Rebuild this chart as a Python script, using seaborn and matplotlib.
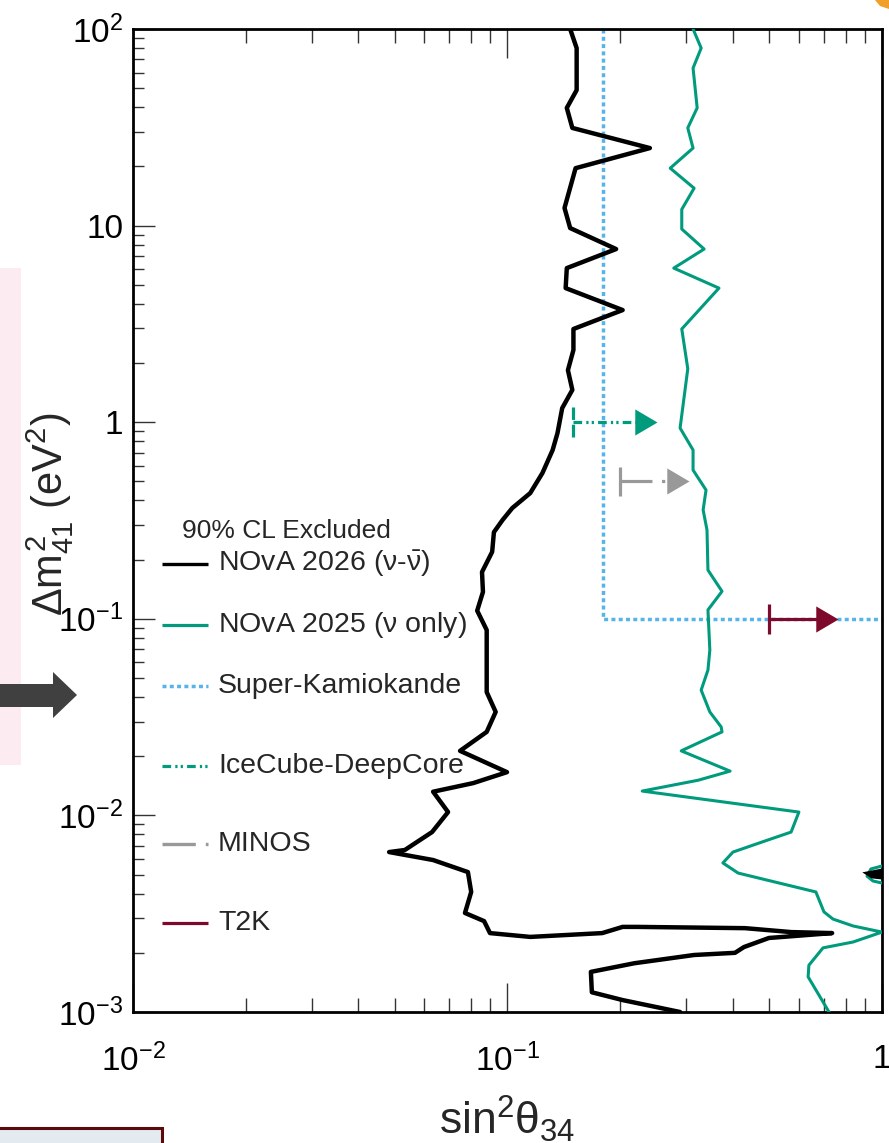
import numpy as np
import matplotlib
matplotlib.use("Agg")
import matplotlib.pyplot as plt
import seaborn as sns
from matplotlib.lines import Line2D
from matplotlib.patches import Rectangle, Polygon
from matplotlib.path import Path
from matplotlib.ticker import LogLocator, NullFormatter

# NOvA 2026 (nu + antinu) 90% CL contour, read top -> bottom
nova26_s2 = [0.147, 0.153, 0.153, 0.144, 0.149, 0.240, 0.152, 0.142, 0.147, 0.195,
             0.144, 0.143, 0.203, 0.150, 0.150, 0.145, 0.149, 0.140, 0.136, 0.132,
             0.124, 0.115, 0.103, 0.097, 0.092, 0.091, 0.0855, 0.086, 0.083, 0.088,
             0.088, 0.088, 0.088, 0.093, 0.088, 0.0747, 0.0997, 0.081, 0.0633, 0.0694,
             0.0629, 0.0532, 0.0483, 0.0633, 0.0784, 0.080, 0.077, 0.0866, 0.0898, 0.115,
             0.179, 0.203, 0.222, 0.431, 0.572, 0.736, 0.499, 0.428, 0.405, 0.315,
             0.218, 0.167, 0.168, 0.203, 0.289]
nova26_dm2 = [100, 80.0, 48.9, 39.7, 31.4, 24.8, 19.6, 12.3, 9.72, 7.60,
              6.08, 4.81, 3.72, 2.98, 2.33, 1.84, 1.46, 1.18, 0.881, 0.722,
              0.552, 0.436, 0.366, 0.318, 0.276, 0.219, 0.173, 0.137, 0.110, 0.0877,
              0.0694, 0.0536, 0.0424, 0.0336, 0.0266, 0.0213, 0.0166, 0.0146, 0.0132, 0.0104,
              0.00823, 0.00667, 0.00651, 0.00593, 0.00515, 0.00408, 0.00319, 0.00290, 0.00252, 0.00241,
              0.00252, 0.00271, 0.00271, 0.00267, 0.00255, 0.00252, 0.00238, 0.00214, 0.00200, 0.00195,
              0.00177, 0.00160, 0.00126, 0.00115, 0.001]
# small closed island near sin^2 = 1
island26_s2 = [1.0, 0.906, 0.940, 1.0]
island26_dm2 = [0.00528, 0.00509, 0.00486, 0.00480]

# NOvA 2025 (nu only)
nova25_s2 = [0.313, 0.329, 0.313, 0.321, 0.303, 0.313, 0.272, 0.315, 0.292, 0.292,
             0.335, 0.278, 0.367, 0.292, 0.303, 0.289, 0.313, 0.313, 0.339, 0.333,
             0.341, 0.343, 0.374, 0.343, 0.347, 0.343, 0.329, 0.347, 0.372, 0.374,
             0.291, 0.393, 0.323, 0.229, 0.600, 0.572, 0.478, 0.400, 0.376, 0.413,
             0.666, 0.700, 0.740, 0.837, 1.0, 0.837, 0.696, 0.638, 0.635, 0.722]
nova25_dm2 = [100, 80.0, 63.3, 39.7, 31.4, 24.8, 19.6, 15.5, 12.1, 9.61,
              7.60, 6.08, 4.81, 2.98, 1.87, 0.934, 0.722, 0.571, 0.452, 0.358,
              0.283, 0.177, 0.138, 0.111, 0.0694, 0.0549, 0.0434, 0.0336, 0.0282, 0.0266,
              0.0213, 0.0168, 0.0151, 0.0133, 0.0104, 0.00823, 0.00732, 0.00651, 0.00573, 0.00509,
              0.00408, 0.00323, 0.00297, 0.00274, 0.00255, 0.00227, 0.00212, 0.00173, 0.00151, 0.001]
island25_s2 = [1.0, 0.934, 0.912, 0.946, 1.0]
island25_dm2 = [0.00553, 0.00534, 0.00491, 0.00464, 0.00453]

# Super-Kamiokande
superk_s2 = [0.18, 0.18, 1.0]
superk_dm2 = [100, 0.1, 0.1]

# one-sided limits: (start, arrow tip, dm2)
icecube_lim = (0.15, 0.25, 1.0)
minos_lim = (0.20, 0.305, 0.5)
t2k_lim = (0.50, 0.763, 0.1)

legend_labels = ["NOvA 2026 ($\\nu$-$\\bar{\\nu}$)", "NOvA 2025 ($\\nu$ only)",
                 "Super-Kamiokande", "IceCube-DeepCore", "MINOS", "T2K"]

C_GREEN = "#009B7D"
C_SK = "#56B4E9"
C_MINOS = "#999999"
C_T2K = "#7D0A2A"

LS_SK = (0, (1.15, 0.95))
LS_IC = (0, (2.7, 1.3, 0.7, 1.0, 0.7, 1.3))
LS_MINOS = (0, (10, 3, 1, 3))

sns.set_style("ticks")
plt.rcParams["font.family"] = ["Liberation Sans", "DejaVu Sans"]
plt.rcParams["mathtext.fontset"] = "custom"
plt.rcParams["mathtext.rm"] = "Liberation Sans"
plt.rcParams["mathtext.it"] = "Liberation Sans"
plt.rcParams["mathtext.bf"] = "Liberation Sans:bold"

fig = plt.figure(figsize=(8.89, 11.43), dpi=100)
ax = fig.add_axes([0.1496, 0.1146, 0.8425, 0.8600])
ax.set_xscale("log")
ax.set_yscale("log")

# arrow head marker with its tip at the data point
head = Path([(0, 0), (-0.85, 0.5), (-0.85, -0.5), (0, 0)],
            [Path.MOVETO, Path.LINETO, Path.LINETO, Path.CLOSEPOLY])


def limit_arrow(lim, color, ls, bar_ls="-", lw=2.3):
    x0, x1, y = lim
    ax.plot([x0, x1 * 0.93], [y, y], color=color, ls=ls, lw=lw, zorder=4,
            solid_capstyle="butt", dash_capstyle="butt")
    ax.plot([x0, x0], [y / 1.19, y * 1.19], color=color, ls=bar_ls, lw=lw, zorder=4,
            solid_capstyle="butt", dash_capstyle="butt")
    ax.plot([x1], [y], marker=head, ms=32, color=color, mew=0, ls="none", zorder=5)


ax.plot(superk_s2, superk_dm2, color=C_SK, ls=LS_SK, lw=2.5, zorder=2,
        dash_capstyle="butt")
sns.lineplot(x=nova25_s2, y=nova25_dm2, sort=False, estimator=None, color=C_GREEN,
             lw=2.2, ax=ax, zorder=3)
ax.plot(island25_s2, island25_dm2, color=C_GREEN, lw=2.2, zorder=3)
sns.lineplot(x=nova26_s2, y=nova26_dm2, sort=False, estimator=None, color="black",
             lw=3.2, ax=ax, zorder=3)
ax.fill(island26_s2, island26_dm2, color="black", lw=2, zorder=3)

limit_arrow(icecube_lim, C_GREEN, LS_IC, bar_ls=(0, (4, 1.5)))
limit_arrow(minos_lim, C_MINOS, LS_MINOS)
limit_arrow(t2k_lim, C_T2K, "-")

ax.set_xlim(1e-2, 1)
ax.set_ylim(1e-3, 1e2)

ax.set_xticks([1e-2, 1e-1, 1], labels=["$10^{-2}$", "$10^{-1}$", "1"])
ax.set_yticks([1e-3, 1e-2, 1e-1, 1, 10, 100],
              labels=["$10^{-3}$", "$10^{-2}$", "$10^{-1}$", "1", "10", "$10^{2}$"])
for axis in (ax.xaxis, ax.yaxis):
    axis.set_minor_locator(LogLocator(base=10, subs=np.arange(2, 10), numticks=20))
    axis.set_minor_formatter(NullFormatter())

ax.tick_params(which="both", direction="in", top=True, right=False, colors="#333333",
               width=1.0, labelcolor="black", labelsize=24)
ax.tick_params(axis="x", which="major", length=21, pad=23)
ax.tick_params(axis="x", which="minor", length=10)
ax.tick_params(axis="y", which="major", length=16, pad=7)
ax.tick_params(axis="y", which="minor", length=8)
for sp in ax.spines.values():
    sp.set_linewidth(2.0)
    sp.set_color("black")

ax.set_xlabel("sin$^{2}\\theta_{34}$", fontsize=32)
ax.xaxis.set_label_coords(0.5, -0.083)
ax.set_ylabel("$\\Delta m^{2}_{41}$ (eV$^{2}$)", fontsize=30)
ax.yaxis.set_label_coords(-0.076, 0.506)

# legend drawn by hand (uneven row spacing in the original)
ax.text(0.0654, 0.4893, "90% CL Excluded", transform=ax.transAxes, fontsize=19,
        ha="left", va="center")
rows_y = [0.4557, 0.3937, 0.3316, 0.2503, 0.1709, 0.0905]
handle_styles = [dict(color="black", ls="-", lw=2.4),
                 dict(color=C_GREEN, ls="-", lw=2.3),
                 dict(color=C_SK, ls=LS_SK, lw=2.5),
                 dict(color=C_GREEN, ls=LS_IC, lw=2.3),
                 dict(color=C_MINOS, ls=LS_MINOS, lw=2.4),
                 dict(color=C_T2K, ls="-", lw=2.3)]
for yy, lab, st in zip(rows_y, legend_labels, handle_styles):
    ax.add_line(Line2D([0.0387, 0.1001], [yy, yy], transform=ax.transAxes,
                       dash_capstyle="butt", solid_capstyle="butt", **st))
    ax.text(0.1135, yy, lab, transform=ax.transAxes, fontsize=20.5, ha="left", va="center")

# slide fragments around the plot
W, H = 889.0, 1143.0
fig.add_artist(Rectangle((0, 1 - 765 / H), 21 / W, 497 / H, transform=fig.transFigure,
                         facecolor="#FCECF2", edgecolor="none"))
arrow_px = [(0, 684), (53, 684), (53, 672), (77, 695), (53, 718), (53, 707), (0, 707)]
fig.add_artist(Polygon([(x / W, 1 - y / H) for x, y in arrow_px], closed=True,
                       transform=fig.transFigure, facecolor="#404040", edgecolor="none"))
fig.add_artist(Rectangle((-5 / W, 1 - 1155 / H), 167 / W, 27 / H, transform=fig.transFigure,
                         facecolor="#E3EAF0", edgecolor="#5A0A0A", lw=2.2))
orange_px = [(875, 0), (889, 0), (889, 9), (880, 6)]
fig.add_artist(Polygon([(x / W, 1 - y / H) for x, y in orange_px], closed=True,
                       transform=fig.transFigure, facecolor="#F0A028", edgecolor="none"))

fig.savefig("out.png", dpi=100)
